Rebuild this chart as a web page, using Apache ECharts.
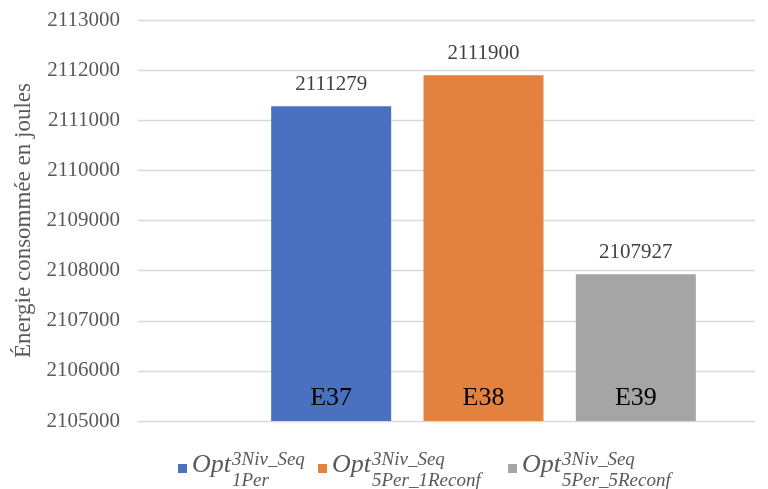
<!DOCTYPE html>
<html><head><meta charset="utf-8">
<script src="https://cdn.jsdelivr.net/npm/echarts@6/dist/echarts.min.js"></script>
<style>html,body{margin:0;padding:0;background:#fff}#c{width:768px;height:489px}</style>
</head><body><div id="c"></div>
<script>
const categories = ['E37', 'E38', 'E39'];
const seriesSup = ['3Niv_Seq', '3Niv_Seq', '3Niv_Seq'];
const seriesSub = ['1Per', '5Per_1Reconf', '5Per_5Reconf'];
const values = [2111279, 2111900, 2107927];
const yMin = 2105000, yMax = 2113000, yStep = 1000;
const colors = ['#4A71C0', '#E3813E', '#A5A5A5'];
const names = seriesSub.map((s, i) => 'Opt_' + s);
const legendLefts = [178, 318, 508];

const chart = echarts.init(document.getElementById('c'));
const serif = 'Liberation Serif';
const series = values.map((v, i) => ({
  name: names[i],
  type: 'bar',
  xAxisIndex: 1, yAxisIndex: 1,
  barWidth: 120,
  barGap: '-100%',
  itemStyle: { color: colors[i] },
  label: { show: true, position: 'top', distance: 11, color: '#404040', fontFamily: serif, fontSize: 21 },
  data: categories.map((c, j) => j === i ? v : null)
}));

const legendRich = {
  e: { fontSize: 1, lineHeight: 12 },
  sp: { width: 40, fontSize: 1, lineHeight: 6 },
  sp3: { width: 40, fontSize: 1, lineHeight: 24 },
  sup: { fontFamily: serif, fontStyle: 'italic', fontSize: 19, color: '#595959', lineHeight: 6 },
  o: { fontFamily: serif, fontStyle: 'italic', fontSize: 26, color: '#595959', lineHeight: 6 },
  sub: { fontFamily: serif, fontStyle: 'italic', fontSize: 19, color: '#595959', lineHeight: 24 }
};

chart.setOption({
  animation: false,
  grid: [
    { left: 138, right: 13, top: 20, bottom: 68 },
    { left: 255, right: 56, top: 20, bottom: 68 }
  ],
  xAxis: [
    { gridIndex: 0, type: 'category', data: [''], axisLine: { show: false }, axisTick: { show: false }, axisLabel: { show: false } },
    { gridIndex: 1, type: 'category', data: categories, axisLine: { show: false }, axisTick: { show: false },
      axisLabel: { inside: true, margin: 10, color: '#000', fontFamily: serif, fontSize: 26, verticalAlign: 'bottom' }, z: 10 }
  ],
  yAxis: [
    { gridIndex: 0, type: 'value', min: yMin, max: yMax, interval: yStep,
      name: 'Énergie consommée en joules', nameLocation: 'middle', nameGap: 102,
      nameTextStyle: { fontFamily: serif, fontSize: 23, color: '#595959' },
      axisLabel: { color: '#595959', fontFamily: serif, fontSize: 21, margin: 18, formatter: v => String(v) },
      axisLine: { show: false }, axisTick: { show: false },
      splitLine: { lineStyle: { color: '#d9d9d9', width: 1.3 } } },
    { gridIndex: 1, type: 'value', min: yMin, max: yMax, interval: yStep, show: false, splitLine: { show: false } }
  ],
  legend: names.map((n, i) => ({
    data: [n],
    bottom: -1, left: legendLefts[i], padding: 0,
    icon: 'rect', itemWidth: 9, itemHeight: 9, itemGap: 0,
    formatter: function (nm) {
      const k = names.indexOf(nm);
      return '{e| }\n{sp| }{sup|' + seriesSup[k] + '}\n{o|Opt}\n{sp3| }{sub|' + seriesSub[k] + '}';
    },
    textStyle: { color: '#595959', rich: legendRich }
  })),
  series: series
});
</script></body></html>
